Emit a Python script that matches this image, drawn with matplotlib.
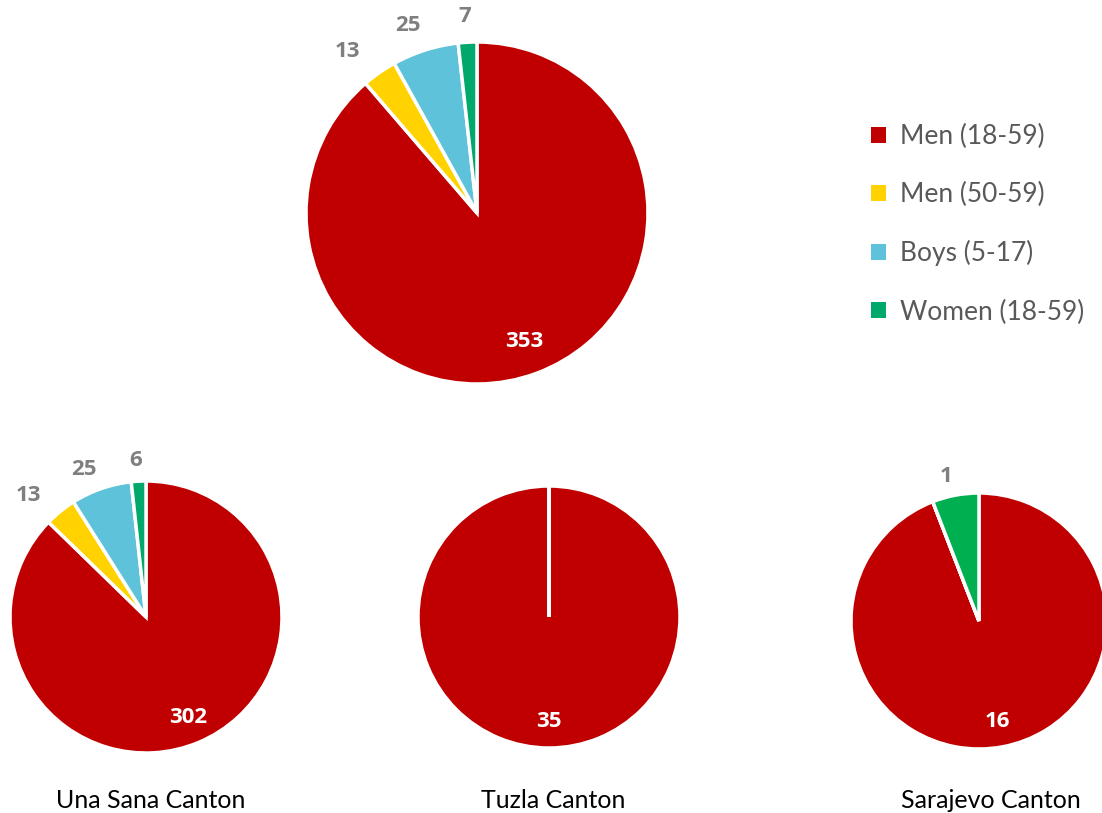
import numpy as np
import matplotlib
matplotlib.use("Agg")
import matplotlib.pyplot as plt
from matplotlib.patches import Patch

plt.rcParams['font.family'] = ['Lato', 'DejaVu Sans']

# data
categories = ['Men (18-59)', 'Men (50-59)', 'Boys (5-17)', 'Women (18-59)']
colors = ['#C00000', '#FFD200', '#5DC2DA', '#00A86B']
total_vals = [353, 13, 25, 7]
una_sana_vals = [302, 13, 25, 6]
tuzla_vals = [35, 0, 0, 0]
sarajevo_vals = [16, 0, 0, 1]
region_names = ['Una Sana Canton', 'Tuzla Canton', 'Sarajevo Canton']

W, H = 1102, 813
fig = plt.figure(figsize=(W / 100, H / 100), dpi=100)


def pie_axes(cx, cy, r):
    # pixel center / radius -> figure axes box
    return fig.add_axes([(cx - r) / W, (H - cy - r) / H, 2 * r / W, 2 * r / H])


def draw_pie(ax, vals, cols):
    wedges, _ = ax.pie(vals, colors=cols, startangle=90, counterclock=False,
                       wedgeprops=dict(edgecolor='white', linewidth=2.5))
    ax.set_xlim(-1, 1)
    ax.set_ylim(-1, 1)
    ax.set_aspect('equal')
    ax.axis('off')
    for i, (w, v) in enumerate(zip(wedges, vals)):
        if v == 0:
            continue
        mid = np.deg2rad((w.theta1 + w.theta2) / 2)
        if i == 0:
            d, col, dx = 0.8, 'white', 0
        else:
            # outside-end labels, nudged sideways like Excel does
            d, col, dx = 1.15, '#7F7F7F', 22 * np.cos(mid)
        ax.annotate(str(v), (d * np.cos(mid), d * np.sin(mid)),
                    xytext=(dx, 0), textcoords='offset points', color=col,
                    family='Open Sans', fontsize=16, fontweight='bold',
                    ha='center', va='center', annotation_clip=False)
    return wedges


ax0 = pie_axes(477, 213, 171)
draw_pie(ax0, total_vals, colors)

ax1 = pie_axes(146, 617, 136)
draw_pie(ax1, una_sana_vals, colors)

ax2 = pie_axes(549, 617, 131)
draw_pie(ax2, tuzla_vals, colors)

ax3 = pie_axes(979, 621, 128)
draw_pie(ax3, sarajevo_vals, colors[:3] + ['#00B050'])

for name, x in zip(region_names, [151, 553, 991]):
    fig.text(x / W, 1 - 800 / H, name, ha='center', va='center',
             fontsize=18, color='black')

handles = [Patch(facecolor=c, edgecolor='none') for c in colors]
leg = fig.legend(handles, categories, loc='upper left',
                 bbox_to_anchor=(858 / W, 1 - 111 / H), frameon=False,
                 fontsize=19, labelspacing=1.25, handlelength=0.55,
                 handleheight=0.55, handletextpad=0.55, borderpad=0)
for t in leg.get_texts():
    t.set_color('#595959')

fig.savefig('out.png', dpi=100)
